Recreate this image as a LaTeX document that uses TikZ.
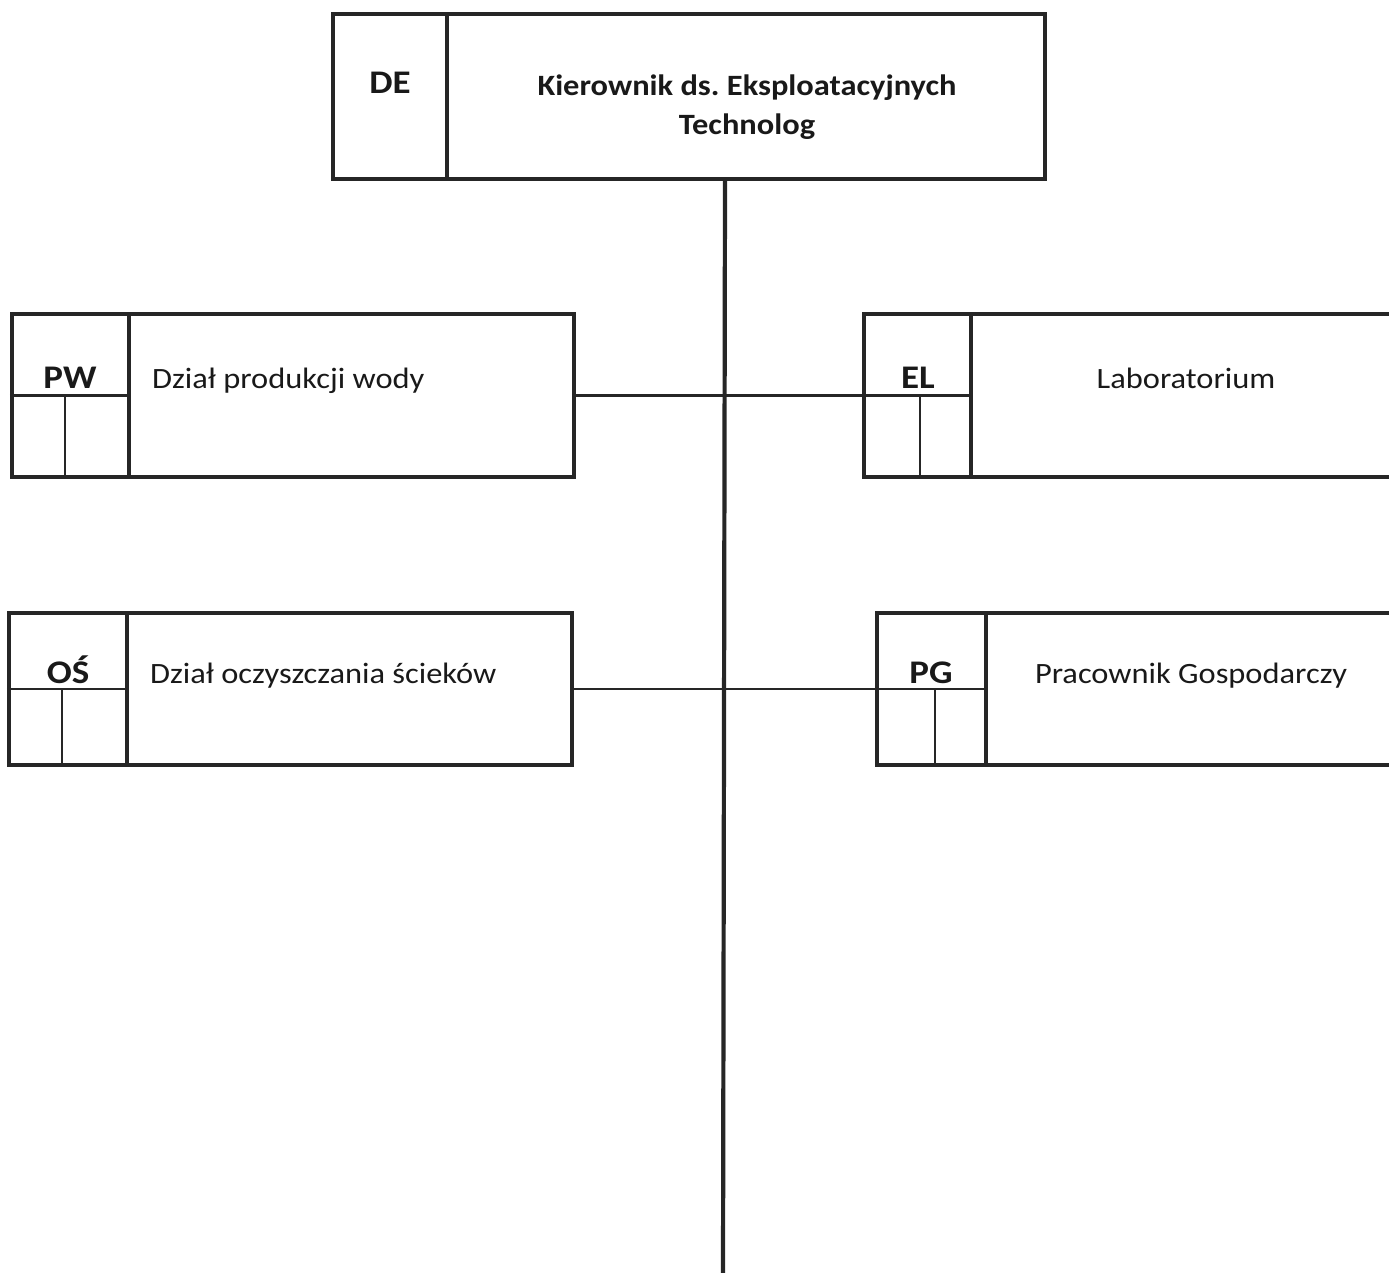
\documentclass[tikz,border=0pt]{standalone}
\usepackage{fontspec}
\setmainfont{Carlito}
\frenchspacing
\begin{document}
\begin{tikzpicture}[x=1pt,y=-1pt,
  box/.style={draw=black!85, line width=4.2pt, rectangle, inner sep=0pt, anchor=center},
  thin/.style={draw=black!85, line width=2.2pt},
  thick/.style={draw=black!85, line width=4.2pt},
  code/.style={font=\fontsize{33}{38}\selectfont\bfseries\addfontfeature{FakeStretch=1.12}, text=black!90, inner sep=0pt, anchor=base},
  lbl/.style={font=\fontsize{29.5}{36}\selectfont\addfontfeature{FakeStretch=1.1}, text=black!90, inner sep=0pt, anchor=base},
  ttl/.style={font=\fontsize{29.5}{39}\selectfont\bfseries\addfontfeature{FakeStretch=1.1}, text=black!90, align=center, inner sep=0pt, anchor=base}]
\useasboundingbox (0,0) rectangle (1389,1272);
% top box
\node[box, minimum width=712pt, minimum height=165pt] (de) at (689,96.5) {};
\coordinate (deDiv) at (447,14);
\draw[thick] (deDiv) -- (deDiv |- de.south);
\node[code] (detxt) at (390,93) {DE};
\node[ttl] (detitle) at (747,134) {Kierownik ds. Eksploatacyjnych\\Technolog};
% trunk
\coordinate (trunkbot) at (723,1275);
\draw[thick] (725,179) coordinate (trunktop) -- (trunkbot);
% PW
\node[box, minimum width=562pt, minimum height=163pt] (pw) at (293,395.5) {};
\coordinate (pwDiv) at (129,314);
\draw[thick] (pwDiv) -- (pwDiv |- pw.south);
\draw[thin] (pw.west) -- (pwDiv |- pw.west);
\coordinate (pwSub) at (65,395.5);
\draw[thin] (pwSub) -- (pwSub |- pw.south);
\node[code] (pwcode) at (70,388) {PW};
\node[lbl, anchor=base west] (pwtxt) at (152,388) {Dział produkcji wody};
% EL
\node[box, minimum width=560pt, minimum height=163pt] (el) at (1144,395.5) {};
\coordinate (elDiv) at (971,314);
\draw[thick] (elDiv) -- (elDiv |- el.south);
\draw[thin] (el.west) -- (elDiv |- el.west);
\coordinate (elSub) at (920,395.5);
\draw[thin] (elSub) -- (elSub |- el.south);
\node[code] (elcode) at (918,388) {EL};
\node[lbl] (eltxt) at (1186,388) {Laboratorium};
% OS
\node[box, minimum width=563pt, minimum height=152pt] (os) at (290.5,689) {};
\coordinate (osDiv) at (127,613);
\draw[thick] (osDiv) -- (osDiv |- os.south);
\draw[thin] (os.west) -- (osDiv |- os.west);
\coordinate (osSub) at (62,689);
\draw[thin] (osSub) -- (osSub |- os.south);
\node[code] (oscode) at (68,683) {OŚ};
\node[lbl, anchor=base west] (ostxt) at (150,683) {Dział oczyszczania ścieków};
% PG
\node[box, minimum width=563pt, minimum height=152pt] (pg) at (1158.5,689) {};
\coordinate (pgDiv) at (986,613);
\draw[thick] (pgDiv) -- (pgDiv |- pg.south);
\draw[thin] (pg.west) -- (pgDiv |- pg.west);
\coordinate (pgSub) at (935,689);
\draw[thin] (pgSub) -- (pgSub |- pg.south);
\node[code] (pgcode) at (931,683) {PG};
\node[lbl] (pgtxt) at (1191,683) {Pracownik Gospodarczy};
% connectors
\draw[thin] (pw.east) -- (el.west);
\draw[thin] (os.east) -- (pg.west);
\end{tikzpicture}
\end{document}
